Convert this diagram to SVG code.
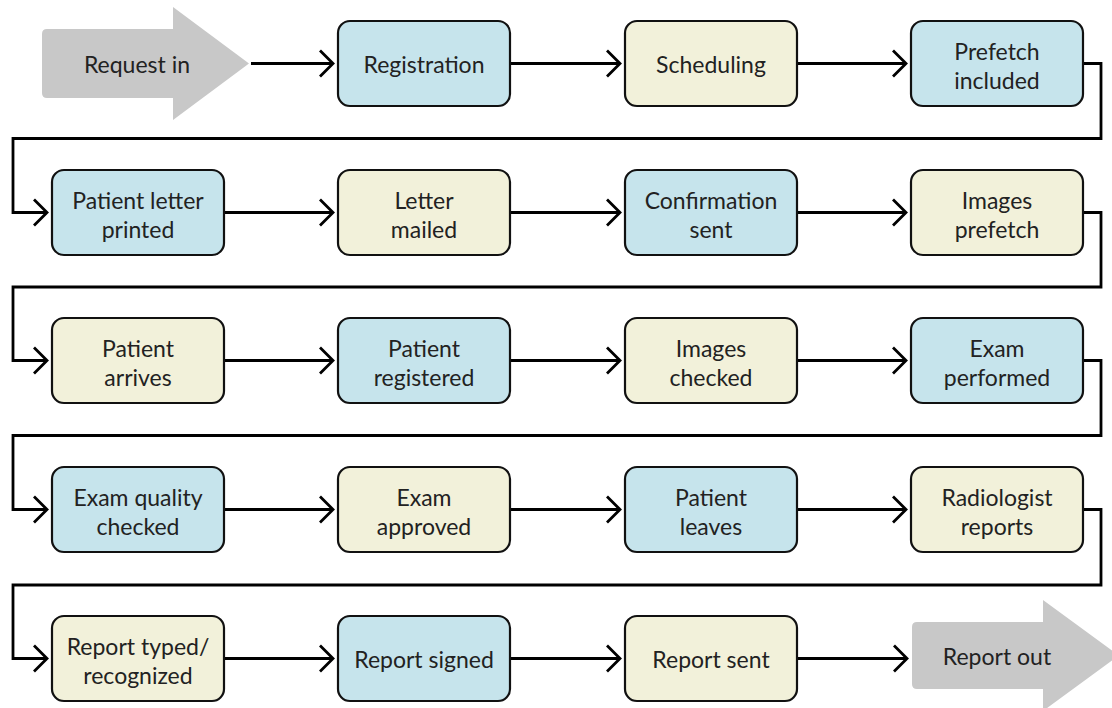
<svg xmlns="http://www.w3.org/2000/svg" width="1112" height="708" viewBox="0 0 1112 708">
<style>
.b{fill:#c6e4ec;stroke:#111;stroke-width:2.2}
.y{fill:#f2f1da;stroke:#111;stroke-width:2.2}
.g{fill:#c8c8c8}
text{font-family:Lato,"Open Sans","Liberation Sans",sans-serif;font-size:23px;fill:#222;text-anchor:middle}
</style>
<defs>
<path id="ah" d="M-13,-13 L0,0 L-13,13"/>
</defs>
<rect width="1112" height="708" fill="#fff"/>
<g id="request-in">
<path class="g" d="M47,29 H173 V7 L249,63.5 L173,120 V98 H47 Q42,98 42,93 V34 Q42,29 47,29 Z"/>
<text x="137" y="73">Request in</text>
</g>
<g id="report-out">
<path class="g" d="M917,622 H1043 V600 L1119,655.5 L1043,711 V689 H917 Q912,689 912,684 V627 Q912,622 917,622 Z"/>
<text x="997" y="665">Report out</text>
</g>
<g id="connectors" fill="none" stroke="#000" stroke-width="2.8">
<path d="M251,63.5 H333"/>
<path d="M510,63.5 H620"/>
<path d="M797,63.5 H906"/>
<path d="M1083,63.5 H1101 V138.5 H13 V212.5 H47"/>
<path d="M224,212.5 H333"/>
<path d="M510,212.5 H620"/>
<path d="M797,212.5 H906"/>
<path d="M1083,212.5 H1101 V287 H13 V360.5 H47"/>
<path d="M224,360.5 H333"/>
<path d="M510,360.5 H620"/>
<path d="M797,360.5 H906"/>
<path d="M1083,360.5 H1101 V435.5 H13 V509.5 H47"/>
<path d="M224,509.5 H333"/>
<path d="M510,509.5 H620"/>
<path d="M797,509.5 H906"/>
<path d="M1083,509.5 H1101 V585 H13 V658.5 H47"/>
<path d="M224,658.5 H333"/>
<path d="M510,658.5 H620"/>
<path d="M797,658.5 H907"/>
<use href="#ah" x="333" y="63.5"/>
<use href="#ah" x="620" y="63.5"/>
<use href="#ah" x="906" y="63.5"/>
<use href="#ah" x="47" y="212.5"/>
<use href="#ah" x="333" y="212.5"/>
<use href="#ah" x="620" y="212.5"/>
<use href="#ah" x="906" y="212.5"/>
<use href="#ah" x="47" y="360.5"/>
<use href="#ah" x="333" y="360.5"/>
<use href="#ah" x="620" y="360.5"/>
<use href="#ah" x="906" y="360.5"/>
<use href="#ah" x="47" y="509.5"/>
<use href="#ah" x="333" y="509.5"/>
<use href="#ah" x="620" y="509.5"/>
<use href="#ah" x="906" y="509.5"/>
<use href="#ah" x="47" y="658.5"/>
<use href="#ah" x="333" y="658.5"/>
<use href="#ah" x="620" y="658.5"/>
<use href="#ah" x="907" y="658.5"/>
</g>
<g id="registration"><rect class="b" x="338" y="21" width="172" height="85" rx="12"/><text x="424" y="73">Registration</text></g>
<g id="scheduling"><rect class="y" x="625" y="21" width="172" height="85" rx="12"/><text x="711" y="73">Scheduling</text></g>
<g id="prefetch-included"><rect class="b" x="911" y="21" width="172" height="85" rx="12"/><text x="997" y="59.5">Prefetch</text><text x="997" y="88.5">included</text></g>

<g id="patient-letter-printed"><rect class="b" x="52" y="170" width="172" height="85" rx="12"/><text x="138" y="208.5">Patient letter</text><text x="138" y="237.5">printed</text></g>
<g id="letter-mailed"><rect class="y" x="338" y="170" width="172" height="85" rx="12"/><text x="424" y="208.5">Letter</text><text x="424" y="237.5">mailed</text></g>
<g id="confirmation-sent"><rect class="b" x="625" y="170" width="172" height="85" rx="12"/><text x="711" y="208.5">Confirmation</text><text x="711" y="237.5">sent</text></g>
<g id="images-prefetch"><rect class="y" x="911" y="170" width="172" height="85" rx="12"/><text x="997" y="208.5">Images</text><text x="997" y="237.5">prefetch</text></g>

<g id="patient-arrives"><rect class="y" x="52" y="318" width="172" height="85" rx="12"/><text x="138" y="356.5">Patient</text><text x="138" y="385.5">arrives</text></g>
<g id="patient-registered"><rect class="b" x="338" y="318" width="172" height="85" rx="12"/><text x="424" y="356.5">Patient</text><text x="424" y="385.5">registered</text></g>
<g id="images-checked"><rect class="y" x="625" y="318" width="172" height="85" rx="12"/><text x="711" y="356.5">Images</text><text x="711" y="385.5">checked</text></g>
<g id="exam-performed"><rect class="b" x="911" y="318" width="172" height="85" rx="12"/><text x="997" y="356.5">Exam</text><text x="997" y="385.5">performed</text></g>

<g id="exam-quality-checked"><rect class="b" x="52" y="467" width="172" height="85" rx="12"/><text x="138" y="505.5">Exam quality</text><text x="138" y="534.5">checked</text></g>
<g id="exam-approved"><rect class="y" x="338" y="467" width="172" height="85" rx="12"/><text x="424" y="505.5">Exam</text><text x="424" y="534.5">approved</text></g>
<g id="patient-leaves"><rect class="b" x="625" y="467" width="172" height="85" rx="12"/><text x="711" y="505.5">Patient</text><text x="711" y="534.5">leaves</text></g>
<g id="radiologist-reports"><rect class="y" x="911" y="467" width="172" height="85" rx="12"/><text x="997" y="505.5">Radiologist</text><text x="997" y="534.5">reports</text></g>

<g id="report-typed"><rect class="y" x="52" y="616" width="172" height="85" rx="12"/><text x="138" y="654.5">Report typed/</text><text x="138" y="683.5">recognized</text></g>
<g id="report-signed"><rect class="b" x="338" y="616" width="172" height="85" rx="12"/><text x="424" y="668">Report signed</text></g>
<g id="report-sent"><rect class="y" x="625" y="616" width="172" height="85" rx="12"/><text x="711" y="668">Report sent</text></g>
</svg>
